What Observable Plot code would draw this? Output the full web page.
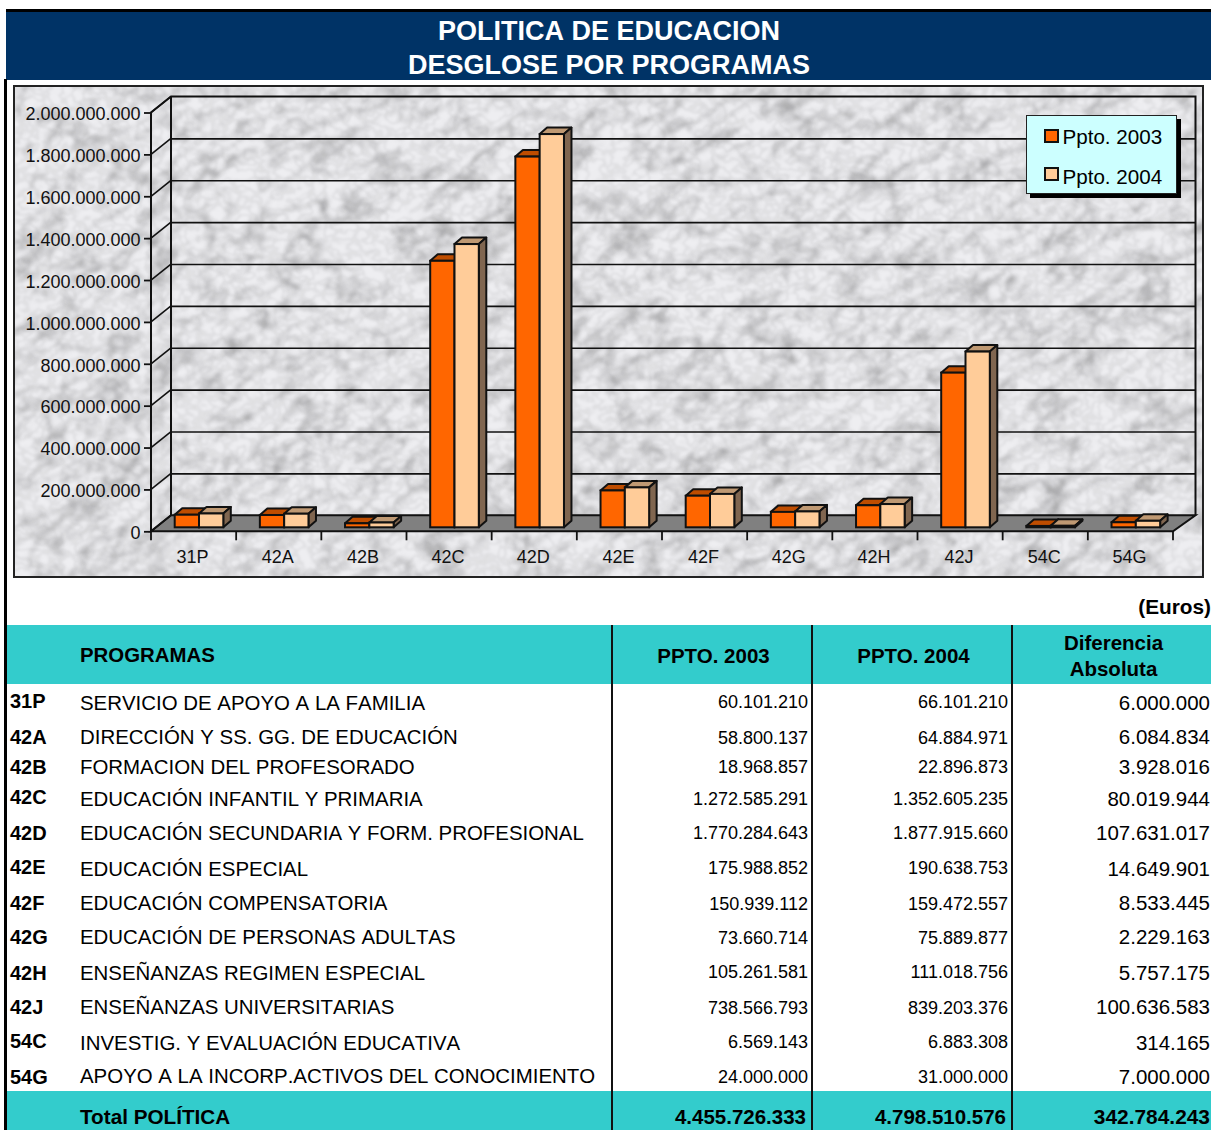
<!DOCTYPE html>
<html lang="es">
<head>
<meta charset="utf-8">
<title>Política de Educación</title>
<script src="https://cdn.jsdelivr.net/npm/d3@7"></script>
<script src="https://cdn.jsdelivr.net/npm/@observablehq/plot@0.6"></script>
<style>
html,body{margin:0;padding:0;background:#fff;}
body{width:1211px;height:1130px;position:relative;overflow:hidden;font-family:"Liberation Sans",Arial,sans-serif;color:#000;}
#head{position:absolute;left:6px;right:0;top:9px;height:71px;box-sizing:border-box;background:#003366;border-top:3px solid #000;padding-top:2px;padding-left:1px;color:#fff;font-weight:bold;font-size:27px;text-align:center;line-height:34px;font-kerning:none;}
#leftline{position:absolute;left:4px;width:3px;top:79px;bottom:0;background:#000;}
#chart{position:absolute;left:0;top:80px;}
#legend{position:absolute;left:1026px;top:115px;width:151px;height:79px;box-sizing:border-box;background:#CCFFFF;border:1.5px solid #222;box-shadow:4px 4px 0 #000;}
#legend i{position:absolute;left:16.5px;width:11px;height:10px;border:2px solid #111;}
#legend span{position:absolute;left:35.5px;font-size:20.6px;line-height:24px;white-space:nowrap;}
#euros{position:absolute;right:0;top:595px;font-weight:bold;font-size:20.8px;line-height:24px;}
table{position:absolute;left:7px;top:625px;width:1204px;border-collapse:collapse;table-layout:fixed;}
td,th{padding:0;overflow:visible;white-space:nowrap;}
tr.band{background:#33CCCC;font-weight:bold;font-size:20.4px;}
td.code{font-weight:bold;font-size:20px;padding-left:3px;}
td.code span,td.v span{position:relative;}
td.name{font-size:20.43px;font-kerning:none;}
td.v{font-size:18px;text-align:right;padding-right:3px;border-left:2px solid #111;}
td.d{font-size:20.5px;text-align:right;padding-right:1px;border-left:2px solid #111;}
tr.band td.v,tr.band td.d{font-size:20.5px;}
tr.band td.h{text-align:center;padding-right:0;padding-left:3px;padding-top:2px;}
tr.band td.p{padding-top:2px;}
tr.band td.h2{line-height:26px;}
tr.total td{padding-top:12px;}
tr.total td.v{padding-right:5px;}
tr.total td.d{font-size:20.9px;}
tr.total td.n{font-size:20.7px;}
</style>
</head>
<body>
<div id="head"><div>POLITICA DE EDUCACION</div><div>DESGLOSE POR PROGRAMAS</div></div>
<div id="leftline"></div>
<div id="chart"></div>
<div id="legend">
  <i style="top:12.5px;background:#FF6600"></i><span style="top:8.5px">Ppto. 2003</span>
  <i style="top:51px;background:#FFCC99"></i><span style="top:48.5px">Ppto. 2004</span>
</div>
<div id="euros">(Euros)</div>
<table id="tbl"></table>
<script>
const codes = ["31P","42A","42B","42C","42D","42E","42F","42G","42H","42J","54C","54G"];
const names = ["SERVICIO DE APOYO A LA FAMILIA","DIRECCIÓN Y SS. GG. DE EDUCACIÓN","FORMACION DEL PROFESORADO","EDUCACIÓN INFANTIL Y PRIMARIA","EDUCACIÓN SECUNDARIA Y FORM. PROFESIONAL","EDUCACIÓN ESPECIAL","EDUCACIÓN COMPENSATORIA","EDUCACIÓN DE PERSONAS ADULTAS","ENSEÑANZAS REGIMEN ESPECIAL","ENSEÑANZAS UNIVERSITARIAS","INVESTIG. Y EVALUACIÓN EDUCATIVA","APOYO A LA INCORP.ACTIVOS DEL CONOCIMIENTO"];
const ppto2003 = [60101210,58800137,18968857,1272585291,1770284643,175988852,150939112,73660714,105261581,738566793,6569143,24000000];
const ppto2004 = [66101210,64884971,22896873,1352605235,1877915660,190638753,159472557,75889877,111018756,839203376,6883308,31000000];
const diferencia = [6000000,6084834,3928016,80019944,107631017,14649901,8533445,2229163,5757175,100636583,314165,7000000];
const totals = [4455726333,4798510576,342784243];
const yTicks = [0,200000000,400000000,600000000,800000000,1000000000,1200000000,1400000000,1600000000,1800000000,2000000000];
const rowHeights = [38,30,30,34,34,38,30,38,34,34,38,29];
const codeLift = [-2,0,0,-2,0,-2,0,0,0,0,-2,1];
const valueLift = [-1,1,0,0,0,-1,1,1,-1,1,-1,1];

const fmt = d3.formatLocale({decimal:",",thousands:".",grouping:[3],currency:["","€"]}).format(",d");
const rows = codes.map((c,i)=>({code:c,a:ppto2003[i],b:ppto2004[i]}));

const DEPTH_X = 20, DEPTH_Y = 16;        // wall depth
const BAR_DX = 7.5, BAR_DY = 6.5, BASE = 4; // bar depth and lift off the front edge
const BAR_L = 23.7, BAR_W = 24.3;
const INK = "#111";

function ns(n){return document.createElementNS("http://www.w3.org/2000/svg",n);}
function el(parent,n,attrs){const e=ns(n);for(const k in attrs)e.setAttribute(k,attrs[k]);parent.appendChild(e);return e;}

// decorative marble backdrop: a notch in the noise's tone curve gives soft veins
function veinTable(center,width,depth){
  const out=[];
  for(let i=0;i<96;i++){const v=i/95; out.push((1-depth*Math.exp(-(((v-center)/width)**2))).toFixed(3));}
  return out.join(" ");
}
function veinFilter(defs,id,freq,octaves,seed,center,width,depth,blur){
  const f=el(defs,"filter",{id,x:"0",y:"0",width:"100%",height:"100%","color-interpolation-filters":"sRGB"});
  el(f,"feTurbulence",{type:"fractalNoise",baseFrequency:freq,numOctaves:octaves,seed});
  el(f,"feColorMatrix",{type:"matrix",values:"0.5 0.5 0 0 0 0.5 0.5 0 0 0 0.5 0.5 0 0 0 0 0 0 0 1"});
  const t=el(f,"feComponentTransfer",{});
  const tv=veinTable(center,width,depth);
  for(const c of ["feFuncR","feFuncG","feFuncB"]) el(t,c,{type:"table",tableValues:tv});
  el(f,"feGaussianBlur",{stdDeviation:blur});
}
function backdrop(){
  const g=ns("g");
  const defs=el(g,"defs",{});
  veinFilter(defs,"veinA","0.012 0.04","3","23",0.47,0.02,0.17,"2");
  veinFilter(defs,"veinB","0.03 0.035","3","8",0.40,0.03,0.13,"2.2");
  veinFilter(defs,"veinC","0.08 0.1","2","5",0.52,0.06,0.06,"1.2");
  const cp=el(defs,"clipPath",{id:"panelclip"});
  el(cp,"rect",{x:14,y:6,width:1189,height:491});
  const c=el(g,"g",{"clip-path":"url(#panelclip)",style:"isolation:isolate"});
  el(c,"rect",{x:14,y:6,width:1189,height:491,fill:"#eeeef1"});
  el(c,"rect",{x:-200,y:-500,width:1700,height:1500,filter:"url(#veinA)",transform:"rotate(-34 608 250)",style:"mix-blend-mode:multiply"});
  el(c,"rect",{x:14,y:6,width:1189,height:491,filter:"url(#veinB)",style:"mix-blend-mode:multiply"});
  el(c,"rect",{x:14,y:6,width:1189,height:491,filter:"url(#veinC)",style:"mix-blend-mode:multiply"});
  el(g,"rect",{x:14,y:6,width:1189,height:491,fill:"none",stroke:"#222","stroke-width":2});
  return g;
}

function walls(index,{x,y},values,dim){
  const g=ns("g");
  const L=dim.marginLeft, R=dim.width-dim.marginRight, y0=y(0), yT=y(2000000000);
  el(g,"polygon",{points:`${L},${y0} ${R},${y0} ${R+22.5},${y0-DEPTH_Y} ${L+DEPTH_X},${y0-DEPTH_Y}`,fill:"#808080",stroke:INK,"stroke-width":2});
  el(g,"path",{d:`M${L},${y0}V${yT}L${L+DEPTH_X},${yT-DEPTH_Y}H${R+22.5}V${y0-DEPTH_Y}M${L+DEPTH_X},${yT-DEPTH_Y}V${y0-DEPTH_Y}`,fill:"none",stroke:INK,"stroke-width":2});
  for(const v of yTicks) el(g,"line",{x1:L,y1:y(v),x2:L+DEPTH_X,y2:y(v)-DEPTH_Y,stroke:INK,"stroke-width":1.6});
  const band=x(codes[1])-x(codes[0]);
  for(let i=0;i<=codes.length;i++){const px=L+i*band; el(g,"line",{x1:px,y1:y0,x2:px,y2:y0+9,stroke:INK,"stroke-width":1.8});}
  return g;
}

function faces(index,{x,y}){
  const g=ns("g");
  const draw=(px,w,val,top,side)=>{
    const yt=y(val)-BASE, yb=y(0)-BASE;
    el(g,"polygon",{points:`${px},${yt} ${px+w},${yt} ${px+w+BAR_DX},${yt-BAR_DY} ${px+BAR_DX},${yt-BAR_DY}`,fill:top,stroke:INK,"stroke-width":2,"stroke-linejoin":"round"});
    el(g,"polygon",{points:`${px+w},${yt} ${px+w+BAR_DX},${yt-BAR_DY} ${px+w+BAR_DX},${yb-BAR_DY} ${px+w},${yb}`,fill:side,stroke:INK,"stroke-width":2,"stroke-linejoin":"round"});
  };
  rows.forEach(r=>{
    const b=x(r.code);
    draw(b+BAR_L,BAR_W,r.a,"#BF4D00","#803300");
    draw(b+BAR_L+BAR_W,BAR_W,r.b,"#BF9973","#806650");
  });
  return g;
}

const band = (1173-151)/12;
const chart = Plot.plot({
  width:1211,height:510,
  marginLeft:151,marginRight:38,marginTop:32.5,marginBottom:58.7,
  style:{fontFamily:"'Liberation Sans',Arial,sans-serif",background:"transparent",color:"#111",overflow:"visible"},
  x:{type:"band",domain:codes,padding:0,round:false,label:null},
  y:{domain:[0,2000000000],label:null},
  marks:[
    backdrop,
    Plot.ruleY(yTicks.filter(v=>v>0&&v<2000000000),{y:d=>d,dx:DEPTH_X,dy:-DEPTH_Y,insetRight:-2.5,stroke:INK,strokeWidth:1.6}),
    walls,
    Plot.axisY({ticks:yTicks,tickSize:7,text:null,stroke:INK,strokeWidth:1.8,label:null}),
    Plot.axisY({ticks:yTicks,tickSize:0,tickPadding:11,dy:1.5,fontSize:18,tickFormat:d=>fmt(d),label:null}),
    Plot.axisX({tickSize:0,tickPadding:18,dx:-1.5,fontSize:18,label:null}),
    faces,
    Plot.barY(rows,{x:"code",y:"a",dy:-BASE,insetLeft:BAR_L,insetRight:band-BAR_L-BAR_W,fill:"#FF6600",stroke:INK,strokeWidth:2}),
    Plot.barY(rows,{x:"code",y:"b",dy:-BASE,insetLeft:BAR_L+BAR_W,insetRight:band-BAR_L-2*BAR_W,fill:"#FFCC99",stroke:INK,strokeWidth:2})
  ]
});
document.getElementById("chart").appendChild(chart);

// table
const tbl=d3.select("#tbl");
const cg=tbl.append("colgroup");
[73,532,200,200,199].forEach(w=>cg.append("col").style("width",w+"px"));
const head=tbl.append("tr").attr("class","band").style("height","59px");
head.append("td");
head.append("td").attr("class","p").text("PROGRAMAS");
head.append("td").attr("class","v h").text("PPTO. 2003");
head.append("td").attr("class","v h").text("PPTO. 2004");
head.append("td").attr("class","d h h2").html("Diferencia<br>Absoluta");
codes.forEach((c,i)=>{
  const tr=tbl.append("tr").style("height",rowHeights[i]+"px");
  tr.append("td").attr("class","code").append("span").style("top",codeLift[i]+"px").text(c);
  tr.append("td").attr("class","name").text(names[i]);
  tr.append("td").attr("class","v").append("span").style("top",valueLift[i]+"px").text(fmt(ppto2003[i]));
  tr.append("td").attr("class","v").append("span").style("top",valueLift[i]+"px").text(fmt(ppto2004[i]));
  tr.append("td").attr("class","d").text(fmt(diferencia[i]));
});
const tot=tbl.append("tr").attr("class","band total").style("height","39px");
tot.append("td");
tot.append("td").attr("class","n").text("Total POLÍTICA");
tot.append("td").attr("class","v").text(fmt(totals[0]));
tot.append("td").attr("class","v").text(fmt(totals[1]));
tot.append("td").attr("class","d").text(fmt(totals[2]));
</script>
</body>
</html>
